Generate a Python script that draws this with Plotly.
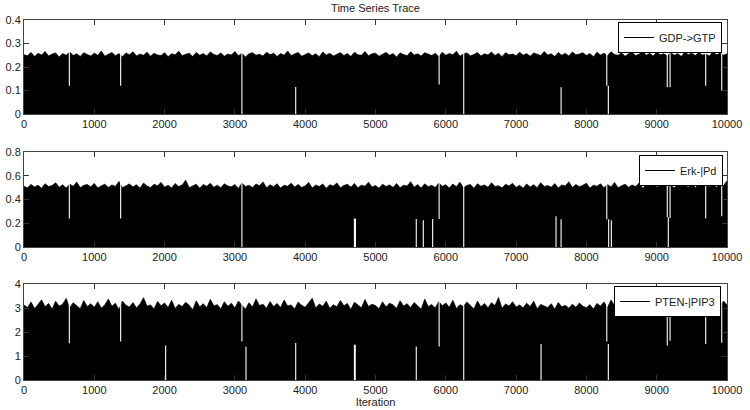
import plotly.graph_objects as go

# ---- data ----
step = 50  # iterations between envelope samples
gdp_gtp = [
0.252,0.248,0.262,0.245,0.258,0.251,0.266,0.247,0.255,0.260,0.243,0.257,0.250,0.264,0.249,0.256,0.245,0.261,0.253,0.247,
0.259,0.250,0.268,0.246,0.254,0.262,0.248,0.257,0.244,0.260,0.252,0.265,0.247,0.255,0.250,0.263,0.246,0.258,0.251,0.249,
0.261,0.244,0.256,0.252,0.267,0.248,0.254,0.259,0.245,0.262,0.250,0.257,0.247,0.264,0.253,0.249,0.260,0.246,0.255,0.251,
0.266,0.248,0.258,0.243,0.256,0.261,0.250,0.254,0.247,0.263,0.252,0.259,0.245,0.257,0.250,0.268,0.249,0.255,0.262,0.246,
0.253,0.260,0.248,0.256,0.244,0.264,0.251,0.258,0.247,0.255,0.261,0.249,0.257,0.245,0.263,0.252,0.250,0.266,0.248,0.256,
0.259,0.246,0.254,0.262,0.250,0.257,0.243,0.260,0.253,0.248,0.265,0.251,0.256,0.247,0.261,0.254,0.249,0.258,0.245,0.263,
0.250,0.257,0.252,0.267,0.246,0.255,0.260,0.248,0.253,0.262,0.247,0.256,0.251,0.264,0.249,0.258,0.244,0.261,0.252,0.255,
0.248,0.263,0.250,0.257,0.246,0.260,0.253,0.249,0.266,0.251,0.256,0.245,0.262,0.250,0.258,0.247,0.264,0.252,0.255,0.261,
0.249,0.257,0.244,0.263,0.251,0.259,0.248,0.265,0.253,0.250,0.260,0.246,0.256,0.262,0.249,0.254,0.268,0.250,0.258,0.247,
0.263,0.252,0.256,0.248,0.261,0.250,0.257,0.245,0.264,0.253,0.259,0.249,0.262,0.251,0.255,0.247,0.266,0.252,0.258,0.250,
0.256]

erk_pd = [
0.512,0.498,0.527,0.505,0.521,0.494,0.533,0.509,0.518,0.541,0.503,0.524,0.496,0.530,0.511,0.547,0.500,0.519,0.526,0.507,
0.535,0.497,0.515,0.529,0.502,0.522,0.510,0.552,0.499,0.517,0.531,0.506,0.525,0.495,0.538,0.513,0.501,0.528,0.516,0.544,
0.504,0.520,0.497,0.534,0.509,0.523,0.562,0.500,0.518,0.529,0.495,0.527,0.511,0.536,0.503,0.521,0.498,0.532,0.514,0.507,
0.526,0.493,0.540,0.510,0.519,0.502,0.530,0.516,0.548,0.499,0.524,0.508,0.533,0.496,0.520,0.512,0.537,0.505,0.527,0.501,
0.515,0.543,0.497,0.522,0.509,0.531,0.494,0.525,0.513,0.539,0.500,0.518,0.528,0.504,0.535,0.498,0.521,0.511,0.546,0.506,
0.517,0.495,0.529,0.510,0.523,0.502,0.534,0.499,0.520,0.514,0.550,0.503,0.526,0.497,0.532,0.508,0.519,0.501,0.538,0.512,
0.524,0.496,0.530,0.507,0.545,0.500,0.518,0.527,0.494,0.533,0.511,0.522,0.503,0.541,0.509,0.516,0.498,0.528,0.513,0.536,
0.502,0.520,0.495,0.531,0.506,0.525,0.499,0.542,0.510,0.517,0.504,0.534,0.497,0.523,0.514,0.549,0.501,0.526,0.508,0.519,
0.537,0.496,0.521,0.511,0.532,0.500,0.527,0.505,0.544,0.498,0.515,0.529,0.503,0.522,0.509,0.539,0.495,0.524,0.512,0.530,
0.506,0.518,0.547,0.501,0.525,0.497,0.533,0.510,0.520,0.504,0.540,0.499,0.528,0.513,0.523,0.507,0.535,0.502,0.526,0.515,
0.558]

pten_pip3 = [
3.12,3.02,3.25,2.98,3.15,3.34,3.05,3.19,2.95,3.28,3.08,3.16,3.40,3.01,3.22,3.10,2.97,3.31,3.06,3.18,
3.03,3.26,2.99,3.14,3.37,3.07,3.20,2.94,3.29,3.11,3.04,3.23,3.00,3.17,3.43,3.08,3.13,2.96,3.27,3.09,
3.21,3.02,3.32,2.98,3.15,3.06,3.24,3.11,2.93,3.30,3.05,3.18,3.01,3.36,3.09,3.14,2.97,3.26,3.07,3.20,
3.00,3.29,3.12,2.95,3.22,3.04,3.38,3.10,3.16,2.99,3.27,3.06,3.19,3.02,3.33,3.08,3.13,2.96,3.25,3.11,
3.03,3.21,3.41,3.00,3.17,3.07,3.28,2.98,3.14,3.05,3.31,3.09,3.19,2.94,3.24,3.12,3.01,3.35,3.06,3.16,
3.10,2.97,3.26,3.04,3.20,3.13,2.99,3.30,3.08,3.18,3.02,3.23,3.11,2.95,3.37,3.06,3.15,3.00,3.27,3.09,
3.21,3.03,3.32,2.98,3.14,3.07,3.25,3.12,2.96,3.29,3.05,3.19,3.01,3.22,3.10,3.44,2.99,3.17,3.08,3.26,
3.04,3.13,3.00,3.20,3.06,3.28,2.97,3.15,3.09,3.02,3.18,2.95,3.23,3.05,3.11,2.99,3.16,3.03,3.21,3.07,
3.01,3.14,2.96,3.19,3.08,3.25,3.02,3.33,3.10,2.98,3.27,3.06,3.17,3.00,3.30,3.12,2.97,3.24,3.09,3.36,
3.04,3.15,3.01,3.28,3.07,3.20,2.98,3.31,3.11,3.05,3.22,3.39,3.03,3.18,3.08,3.26,3.00,3.14,3.10,3.29,
3.13]

# gaps in the trace (iteration, lower value, upper value of the empty span)
gap1_iter = [645, 1375, 3100, 3865, 5905, 6255, 7640, 8290, 8312, 9150, 9190, 9697, 9925]
gap1_lo   = [0.12, 0.12, 0.0, 0.0, 0.126, 0.0, 0.0, 0.12, 0.0, 0.114, 0.114, 0.12, 0.10]
gap1_hi   = [0.4, 0.4, 0.4, 0.115, 0.4, 0.4, 0.114, 0.4, 0.12, 0.4, 0.4, 0.4, 0.4]

gap2_iter = [645, 1375, 3100, 4700, 4715, 5580, 5680, 5813, 5905, 6255, 7568, 7640, 8290, 8317, 8355, 9150, 9165, 9190, 9697, 9925]
gap2_lo   = [0.24, 0.24, 0.0, 0.0, 0.0, 0.0, 0.0, 0.0, 0.235, 0.0, 0.0, 0.0, 0.233, 0.0, 0.0, 0.25, 0.0, 0.245, 0.24, 0.26]
gap2_hi   = [0.8, 0.8, 0.8, 0.24, 0.24, 0.235, 0.225, 0.235, 0.8, 0.8, 0.26, 0.233, 0.8, 0.233, 0.225, 0.8, 0.25, 0.8, 0.8, 0.8]

gap3_iter = [645, 1375, 2015, 3100, 3158, 3865, 4700, 4712, 5580, 5905, 6255, 7355, 8290, 8312, 9150, 9190, 9697, 9925]
gap3_lo   = [1.53, 1.6, 0.0, 1.6, 0.0, 0.0, 0.0, 0.0, 0.0, 1.4, 0.0, 0.0, 1.6, 0.0, 1.44, 1.64, 1.5, 1.55]
gap3_hi   = [4.0, 4.0, 1.44, 4.0, 1.4, 1.54, 1.47, 1.47, 1.4, 4.0, 4.0, 1.5, 4.0, 1.5, 4.0, 4.0, 4.0, 4.0]

names = ["GDP->GTP", "Erk-|Pd", "PTEN-|PIP3"]
y_max = [0.4, 0.8, 4]
y_dtick = [0.1, 0.2, 1]
x_max = 10000
x_dtick = 1000

series = [gdp_gtp, erk_pd, pten_pip3]
gaps = [(gap1_iter, gap1_lo, gap1_hi), (gap2_iter, gap2_lo, gap2_hi), (gap3_iter, gap3_lo, gap3_hi)]

# ---- layout geometry ----
W, H = 750, 410
ml, mr, mt, mb = 24, 23, 20, 30
ph = H - mt - mb
panel_px = [(20, 114), (152, 247), (284, 380)]  # top, bottom in pixels
legend_px = [(722, 22), (723, 155), (721, 286)]
pw = W - ml - mr

FONT = "Liberation Sans, Arial, Helvetica, sans-serif"
TXT = "#222222"

fig = go.Figure()
for i in range(3):
    ax = "" if i == 0 else str(i + 1)
    vals = series[i]
    xs = [k * step for k in range(len(vals))]
    fig.add_trace(go.Scatter(
        x=xs, y=vals, mode="lines", line=dict(color="black", width=0.7),
        fill="tozeroy", fillcolor="black", showlegend=False, hoverinfo="skip",
        xaxis="x" + ax, yaxis="y" + ax))
    gi, glo, ghi = gaps[i]
    gx, gy = [], []
    for a, lo, hi in zip(gi, glo, ghi):
        gx += [a, a, None]
        gy += [lo, hi, None]
    fig.add_trace(go.Scatter(
        x=gx, y=gy, mode="lines", line=dict(color="white", width=1.1),
        showlegend=False, hoverinfo="skip", xaxis="x" + ax, yaxis="y" + ax))
    lg = "legend" if i == 0 else "legend" + str(i + 1)
    fig.add_trace(go.Scatter(
        x=[None], y=[None], mode="lines", line=dict(color="black", width=1),
        name=names[i], legend=lg, xaxis="x" + ax, yaxis="y" + ax))

    top, bot = panel_px[i]
    dom = [(H - mb - bot) / ph, (H - mb - top) / ph]
    common = dict(showline=True, linecolor="#444444", linewidth=1, mirror="ticks",
                  ticks="inside", ticklen=5, tickcolor="#333333", showgrid=False,
                  zeroline=False, automargin=False, layer="above traces",
                  tickfont=dict(family=FONT, size=11, color=TXT))
    xa = dict(common, domain=[0, 1], anchor="y" + ax, range=[0, x_max],
              tick0=0, dtick=x_dtick, tickformat="d")
    ya = dict(common, domain=dom, anchor="x" + ax, range=[0, y_max[i]],
              tick0=0, dtick=y_dtick[i])
    if i == 2:
        xa["title"] = dict(text="Iteration", standoff=1,
                           font=dict(family=FONT, size=11, color=TXT))
    fig.layout["xaxis" + ax] = xa
    fig.layout["yaxis" + ax] = ya

    rx, ty = legend_px[i]
    fig.layout[lg] = dict(
        x=(rx - ml) / pw, xanchor="right", y=(H - mb - ty) / ph, yanchor="top",
        bgcolor="white", bordercolor="black", borderwidth=1,
        font=dict(family=FONT, size=11, color=TXT), itemwidth=30,
        tracegroupgap=0)

fig.update_layout(
    width=W, height=H, template="none",
    margin=dict(l=ml, r=mr, t=mt, b=mb),
    paper_bgcolor="white", plot_bgcolor="white",
    font=dict(family=FONT, size=11, color=TXT),
    title=dict(text="Time Series Trace", x=0.5, xref="paper", xanchor="center",
               y=1 - 8 / H, yref="container", yanchor="middle",
               font=dict(family=FONT, size=11, color=TXT)),
)

fig.write_html("out.html")
